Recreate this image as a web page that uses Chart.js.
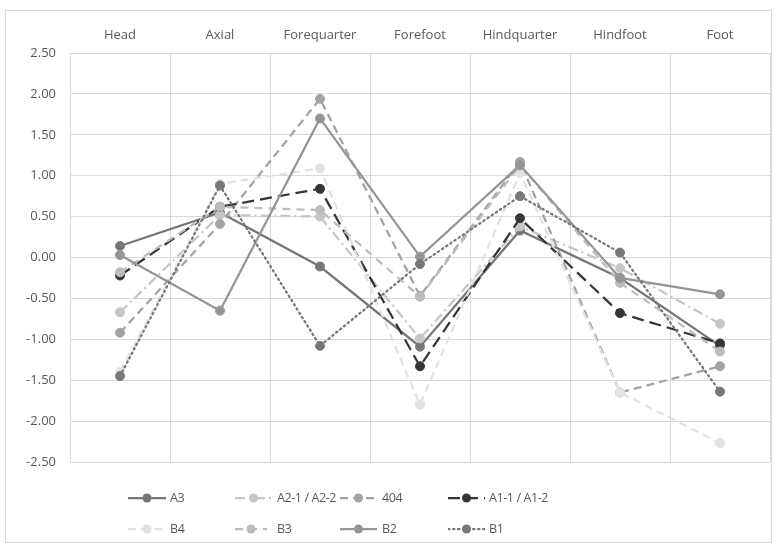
<!DOCTYPE html>
<html>
<head>
<meta charset="utf-8">
<script src="https://cdn.jsdelivr.net/npm/chart.js@4"></script>
<style>
    body { margin: 0; background: #fff; font-family: "Open Sans", sans-serif; }
    #wrap { position: relative; width: 776px; height: 545px; }
    #frame { position: absolute; left: 5px; top: 10px; width: 765px; height: 531px; border: 1px solid #d9d9d9; }
    #legend { position: absolute; left: 0; top: 0; width: 776px; height: 545px; pointer-events: none; }
    .swatch { position: absolute; }
    .txt { position: absolute; font-size: 12.5px; letter-spacing: -0.4px; color: #595959; white-space: nowrap; line-height: 18px; }
</style>
</head>
<body>
<div id="wrap">
    <div id="frame"></div>
    <canvas id="myChart" width="776" height="545"></canvas>
    <div id="legend"></div>
</div>
<script>
const categories = ['Head', 'Axial', 'Forequarter', 'Forefoot', 'Hindquarter', 'Hindfoot', 'Foot'];
const seriesNames = ['A3', 'A2-1 / A2-2', '404', 'A1-1 / A1-2', 'B4', 'B3', 'B2', 'B1'];

const a3   = [0.14, 0.55, -0.11, -1.09, 0.33, -0.25, -1.08];
const a2   = [-0.67, 0.52, 0.50, -0.99, 0.38, -0.13, -0.81];
const s404 = [-0.92, 0.41, 1.94, -0.47, 1.17, -1.65, -1.33];
const a1   = [-0.22, 0.62, 0.84, -1.33, 0.48, -0.68, -1.05];
const b4   = [-1.40, 0.90, 1.09, -1.80, 1.03, -1.65, -2.27];
const b3   = [-0.18, 0.62, 0.58, -0.48, 1.13, -0.31, -1.15];
const b2   = [0.03, -0.65, 1.70, 0.01, 1.13, -0.25, -0.45];
const b1   = [-1.45, 0.88, -1.08, -0.08, 0.75, 0.06, -1.64];

const yTicks = [-2.5, 2.5, 0.5]; // min, max, step

const seriesData = [a3, a2, s404, a1, b4, b3, b2, b1];
const colors = ['#767676', '#c6c6c6', '#a3a3a3', '#353535', '#e2e2e2', '#bcbcbc', '#959595', '#777777'];
const dashes = [[], [10, 4, 2, 4], [8, 5], [12, 6], [8, 5], [8, 6], [], [1.5, 3.5]];
const tickFont = { family: 'Open Sans', size: 13 };

const datasets = seriesData.map((d, i) => ({
    label: seriesNames[i],
    data: d,
    borderColor: colors[i],
    backgroundColor: colors[i],
    borderWidth: 2.25,
    borderDash: dashes[i],
    borderCapStyle: i === 7 ? 'round' : 'butt',
    pointRadius: 4.5,
    pointBorderWidth: 1,
    pointHoverRadius: 4.5,
    tension: 0,
    order: seriesData.length - i
}));

const ctx = document.getElementById('myChart').getContext('2d');
new Chart(ctx, {
    type: 'line',
    data: { labels: categories, datasets: datasets },
    options: {
        responsive: false,
        animation: false,
        layout: { padding: { left: 0, right: 6, top: 0, bottom: 83 } },
        plugins: { legend: { display: false }, tooltip: { enabled: false } },
        scales: {
            x: {
                position: 'top',
                offset: true,
                grid: { color: '#d9d9d9', offset: true, drawTicks: false },
                border: { display: false },
                ticks: { color: '#595959', font: tickFont, padding: 10, maxRotation: 0 },
                afterFit: function(scale) { scale.height = 53; }
            },
            y: {
                min: yTicks[0],
                max: yTicks[1],
                grid: { color: '#d9d9d9', drawTicks: false },
                border: { display: false },
                ticks: {
                    stepSize: yTicks[2],
                    color: '#595959',
                    font: tickFont,
                    padding: 14,
                    callback: v => v.toFixed(2)
                },
                afterFit: function(scale) { scale.width = 70; }
            }
        }
    }
});

// legend in four columns like the original: [sample start, sample end, text x, row y]
const legendPos = [
    [128, 166, 170, 498], [235, 272, 277, 498], [340, 377, 382, 498], [448, 485, 489, 498],
    [128, 166, 170, 529], [235, 267, 277, 529], [340, 377, 382, 529], [448, 485, 489, 529]
];
const legend = document.getElementById('legend');
seriesNames.forEach((name, i) => {
    const [x0, x1, tx, y] = legendPos[i];
    const w = x1 - x0;
    const dash = dashes[i].length ? `stroke-dasharray="${dashes[i].join(' ')}"` : '';
    const cap = i === 7 ? 'round' : 'butt';
    const sw = document.createElement('div');
    sw.className = 'swatch';
    sw.style.left = x0 + 'px';
    sw.style.top = (y - 9) + 'px';
    sw.innerHTML = `<svg width="${w}" height="18"><line x1="0" y1="9" x2="${w}" y2="9" stroke="${colors[i]}" stroke-width="2.25" stroke-linecap="${cap}" ${dash}/><circle cx="${w / 2}" cy="9" r="4.5" fill="${colors[i]}"/></svg>`;
    legend.appendChild(sw);
    const t = document.createElement('div');
    t.className = 'txt';
    t.style.left = tx + 'px';
    t.style.top = (y - 9) + 'px';
    t.textContent = name;
    legend.appendChild(t);
});
</script>
</body>
</html>
